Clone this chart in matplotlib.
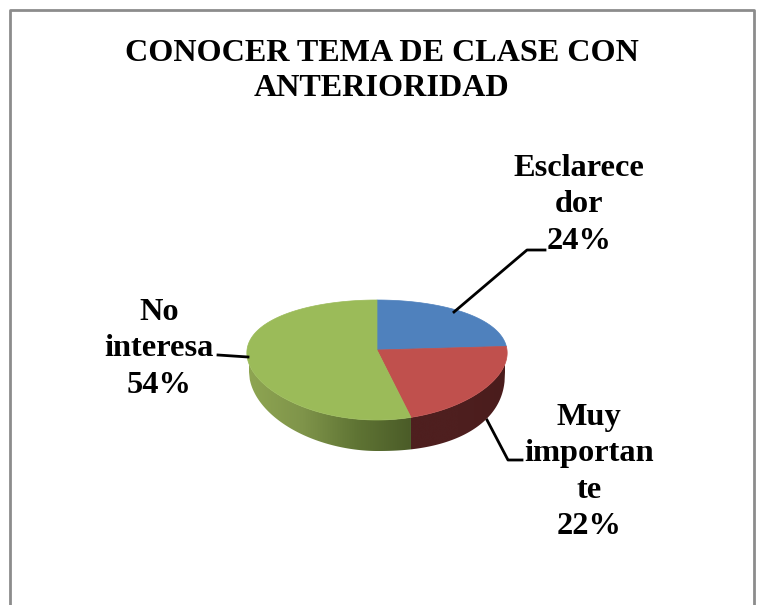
import numpy as np
import matplotlib
matplotlib.use('Agg')
import matplotlib.pyplot as plt
from matplotlib.colors import LinearSegmentedColormap
from matplotlib.patches import Polygon

title = 'CONOCER TEMA DE CLASE CON\nANTERIORIDAD'
labels = ['Esclarece\ndor', 'Muy\nimportan\nte', 'No\ninteresa']
values = [24, 22, 54]
colors = ['#4f81bd', '#c0504d', '#9bbb59']

plt.rcParams['font.family'] = ['Liberation Serif', 'DejaVu Serif']

fig = plt.figure(figsize=(7.61, 6.05), dpi=100)
ax = fig.add_axes([0, 0, 1, 1])
ax.set_xlim(0, 761)
ax.set_ylim(605, 0)
ax.axis('off')

# chart frame, open at the bottom
ax.plot([10, 10, 754, 754], [605, 9.5, 9.5, 605], color='#8c8c8c', lw=2)

cx, cy, a, b = 377, 360, 130, 60
k = 1 / 6
kx = 0.05
depth_cy, depth_a, depth_b = 372, 128, 79


def rim(theta):
    # perspective view of a circle, theta clockwise from the top
    u, v = np.sin(theta), np.cos(theta)
    return cx + a * u / (1 + kx * v), cy - b * (v + k) / (1 + k * v)


def low_edge(x):
    t = np.clip((x - cx) / depth_a, -1, 1)
    p = np.where(t > 0, 2.3, 1.9)
    return depth_cy + depth_b * (1 - np.abs(t)**p)**(1 / p)


edges = np.cumsum([0] + values) / sum(values) * 2 * np.pi
red_x = rim(edges[2])[0]


def side(x0, x1, clr):
    xs = np.linspace(x0, x1, 200)
    th = np.linspace(np.pi / 2, 3 * np.pi / 2, 600)
    rx, ry = rim(th)
    order = np.argsort(rx)
    top = np.interp(xs, rx[order], ry[order])
    pts = np.r_[np.c_[xs, top], np.c_[xs[::-1], low_edge(xs[::-1])]]
    patch = Polygon(pts, closed=True, fc='none', ec='none')
    ax.add_patch(patch)
    cmap = LinearSegmentedColormap.from_list('s', clr)
    im = ax.imshow(np.linspace(0, 1, 256)[None, :], cmap=cmap, aspect='auto',
                   extent=[x0, x1, 460, 340], zorder=1)
    im.set_clip_path(patch)


side(cx - depth_a, red_x, ['#8ea552', '#7f944a', '#5f7434', '#4b5c28'])
side(red_x, cx + depth_a, ['#4e1f1f', '#4e1f1f', '#4a1c1c'])
ax.set_xlim(0, 761)
ax.set_ylim(605, 0)

for i in range(len(values)):
    th = np.linspace(edges[i], edges[i + 1], 200)
    rx, ry = rim(th)
    ax.fill(np.r_[cx, rx], np.r_[cy - b * k, ry], color=colors[i], lw=0.5, zorder=2)

# leader lines
ax.plot([454, 527, 545], [312, 250, 250], color='black', lw=2, zorder=3)
ax.plot([487, 508, 522], [420, 460, 460], color='black', lw=2, zorder=0.5)
ax.plot([218, 248], [355, 357], color='black', lw=2, zorder=3)

ax.text(382, 71, title, ha='center', va='center', fontsize=23.1, weight='bold',
        linespacing=1.24)

pos = [(579, 205), (589, 472), (159, 349)]
for lab, val, (x, y) in zip(labels, values, pos):
    ax.text(x, y, f'{lab}\n{val}%', ha='center', va='center', fontsize=23.3,
            weight='bold', linespacing=1.32)

fig.savefig('out.png', dpi=100)
